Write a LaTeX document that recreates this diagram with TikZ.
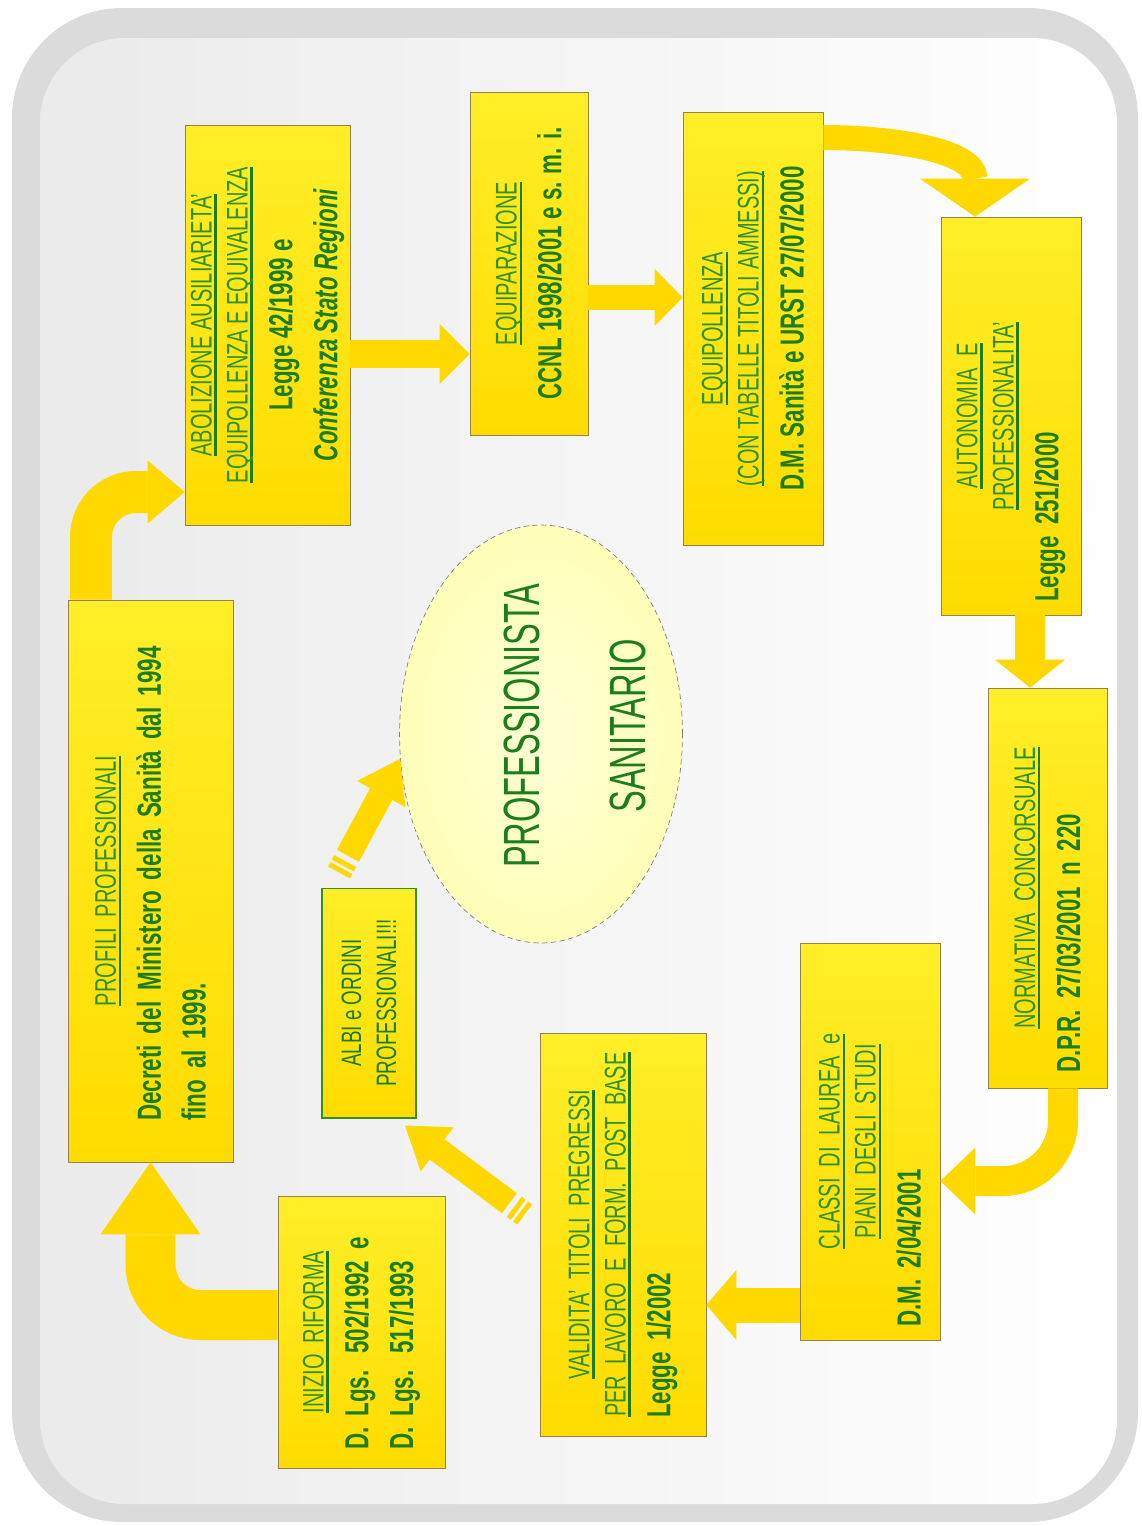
\documentclass[tikz,border=0pt]{standalone}
\usepackage{fontspec}
\setmainfont{Liberation Sans}[FakeStretch=0.67]
\newfontfamily\ellfont{Liberation Sans}[FakeStretch=0.64]
\usetikzlibrary{arrows.meta,calc,positioning,shapes.geometric}
\definecolor{boxyel}{RGB}{255,220,0}
\definecolor{boxlite}{RGB}{255,238,40}
\definecolor{arryel}{RGB}{255,216,0}
\definecolor{txtgreen}{RGB}{28,125,28}
\definecolor{titgreen}{RGB}{48,145,38}
\definecolor{edge}{RGB}{150,130,75}
\definecolor{ellfill}{RGB}{255,255,185}
\newcommand{\tit}[1]{{\fontsize{17}{21}\selectfont\mdseries\color{titgreen}\setbox0\hbox{#1}\rlap{\color{txtgreen}\rule[-3pt]{\wd0}{1.4pt}}\box0}}
\newcommand{\ctr}[1]{\leavevmode\hbox to\hsize{\hss#1\hss}}

\begin{document}
\begin{tikzpicture}[x=0.02cm,y=-0.02cm,
    lawbox/.style={rotate=90, draw=edge, thin, top color=boxlite, bottom color=boxyel,
      text=txtgreen, font=\fontsize{19}{25.5}\selectfont\bfseries, inner sep=0pt},
    fat/.style n args={3}{draw=arryel, line width=#1,
      -{Triangle[length=#2, width=#3, line width=0pt]}}]
  \useasboundingbox (0,0) rectangle (1142,1526);
  \fill[gray!28, rounded corners=2.2cm] (12,8) rectangle (1138,1522);
  \shade[left color=gray!16, right color=white, rounded corners=1.7cm] (40,38) rectangle (1117,1504);

  \node[lawbox, minimum width=11.24cm, minimum height=3.3cm, text width=9.6cm, align=left] (prof) at (150.5,881)
    {\ctr{\tit{PROFILI PROFESSIONALI}}\\ Decreti del Ministero della Sanità dal 1994\\ fino al 1999.};
  \node[lawbox, minimum width=8cm, minimum height=3.3cm, align=center] (abol) at (267.5,325)
    {\tit{ABOLIZIONE AUSILIARIETA'}\\[-5pt] \tit{EQUIPOLLENZA E EQUIVALENZA}\\ Legge 42/1999 e\\ \itshape Conferenza Stato Regioni};
  \node[lawbox, minimum width=6.86cm, minimum height=2.36cm, align=center] (equipar) at (529,263.5)
    {\tit{EQUIPARAZIONE}\\ CCNL 1998/2001 e s. m. i.};
  \node[lawbox, minimum width=8.66cm, minimum height=2.8cm, align=center] (equipoll) at (753,328.5)
    {\tit{EQUIPOLLENZA}\\[-5pt] \tit{(CON TABELLE TITOLI AMMESSI)}\\ D.M. Sanità e URST 27/07/2000};
  \node[lawbox, minimum width=7.96cm, minimum height=2.8cm, text width=7.44cm, align=left] (auton) at (1011,416)
    {\ctr{\tit{AUTONOMIA E}}\\[-5pt] \ctr{\tit{PROFESSIONALITA'}}\\ Legge 251/2000};
  \node[lawbox, minimum width=8cm, minimum height=2.38cm, text width=7.4cm, align=left] (norm) at (1047.5,888)
    {\ctr{\tit{NORMATIVA CONCORSUALE}}\\ D.P.R. 27/03/2001 n 220};
  \node[lawbox, minimum width=7.94cm, minimum height=2.8cm, text width=7.42cm, align=left] (classi) at (870,1141.5)
    {\ctr{\tit{CLASSI DI LAUREA e}}\\[-5pt] \ctr{\tit{PIANI DEGLI STUDI}}\\ D.M. 2/04/2001};
  \node[lawbox, minimum width=8.06cm, minimum height=3.32cm, text width=7.34cm, align=left] (valid) at (623,1234.5)
    {\ctr{\tit{VALIDITA' TITOLI PREGRESSI}}\\[-5pt] \ctr{\tit{PER LAVORO E FORM. POST BASE}}\\ Legge 1/2002};
  \node[lawbox, minimum width=5.44cm, minimum height=3.34cm, text width=4.72cm, align=left] (inizio) at (361.5,1332)
    {\ctr{\tit{INIZIO RIFORMA}}\\ D. Lgs. 502/1992 e\\ D. Lgs. 517/1993};
  \node[lawbox, draw=titgreen, semithick, minimum width=4.6cm, minimum height=1.88cm, align=center,
    font=\fontsize{16}{20}\selectfont] (albi) at (369,1003) {ALBI e ORDINI\\ PROFESSIONALI!!!};

  \node[ellipse, draw=gray, densely dashed, inner color=ellfill!60, outer color=ellfill,
    minimum width=5.66cm, minimum height=8.36cm] (ps) at (541,734) {};
  \node[rotate=90, align=center, text=txtgreen, font=\ellfont\fontsize{29}{60}\selectfont] (pstxt) at (575,726)
    {PROFESSIONISTA\\ SANITARIO};

  \draw[fat={1cm}{1.44cm}{2cm}, rounded corners=1cm] ($(inizio.north)+(0,-17)$) -| (prof.west);
  \draw[fat={0.84cm}{0.74cm}{1.26cm}, rounded corners=0.9cm] ($(prof.east)+(-59.5,0)$) |- ($(abol.north)+(0,167)$);
  \draw[fat={0.56cm}{0.6cm}{1.2cm}] ($(abol.south)+(0,29)$) coordinate (a3) -- (equipar.north |- a3);
  \draw[fat={0.5cm}{0.56cm}{1.14cm}] ($(equipar.south)+(0,34)$) coordinate (a4) -- (equipoll.north |- a4);
  \draw[fat={0.5cm}{0.76cm}{2.2cm}] ($(equipoll.south)+(0,-191)$) to[out=0,in=90] ($(auton.east)+(-36,0)$);
  \draw[fat={0.6cm}{0.56cm}{1.4cm}] ($(auton.west)+(19,0)$) coordinate (a6) -- (a6 |- norm.east);
  \draw[fat={0.6cm}{0.7cm}{1.34cm}, rounded corners=1.2cm] ($(norm.west)+(15.5,0)$) |- ($(classi.south)+(0,39.5)$);
  \draw[fat={0.7cm}{0.6cm}{1.4cm}] ($(classi.north)+(0,163.5)$) coordinate (a8) -- (valid.south |- a8);

  \coordinate (a9s) at ($(valid.north)+(-15,-20)$);
  \coordinate (a9t) at ($(albi.west)+(36,7)$);
  \draw[arryel, line width=0.5cm, dash pattern=on 0.1cm off 0.06cm] (a9s) -- ($(a9s)!0.3cm!(a9t)$);
  \draw[fat={0.5cm}{0.8cm}{1.1cm}] ($(a9s)!0.38cm!(a9t)$) -- (a9t);
  \coordinate (a10s) at ($(albi.east)+(-30,-15)$);
  \draw[arryel, line width=0.5cm, dash pattern=on 0.1cm off 0.06cm] (a10s) -- ($(a10s)!0.3cm!(ps.190)$);
  \draw[fat={0.5cm}{0.8cm}{1.1cm}] ($(a10s)!0.38cm!(ps.190)$) -- (ps.190);
\end{tikzpicture}
\end{document}
